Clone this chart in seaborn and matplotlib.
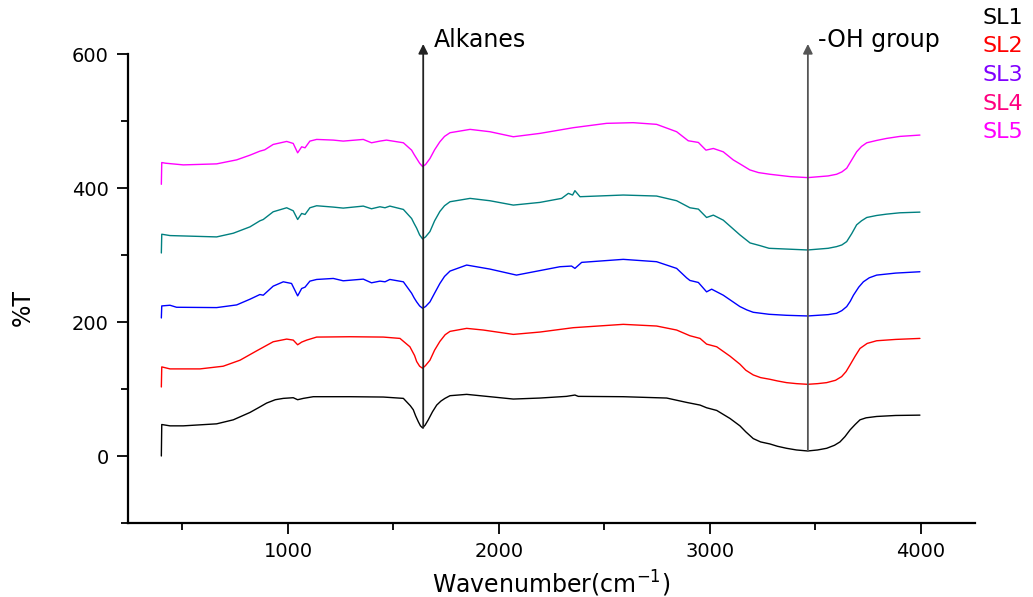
import matplotlib
matplotlib.use("Agg")
import matplotlib.pyplot as plt
import numpy as np
import pandas as pd
import seaborn as sns

# FTIR transmittance spectra (vertically offset), wavenumber in cm^-1
sl1_wn = [400, 402, 441, 504, 662, 741, 820, 860, 899, 940, 978, 1025, 1046, 1073, 1120,
          1294, 1452, 1547, 1580, 1594, 1605, 1618, 1628, 1638, 1650, 1665, 1685, 1705, 1725,
          1744, 1768, 1847, 1926, 2068, 2194, 2320, 2360, 2376, 2589, 2795, 2889, 2953, 2984,
          3032, 3095, 3142, 3170, 3205, 3240, 3284, 3320, 3363, 3410, 3463, 3510, 3553, 3590,
          3616, 3640, 3664, 3688, 3711, 3740, 3790, 3880, 3995]
sl1_t = [0, 47, 45, 45, 48, 54, 65, 72, 79, 84, 86, 87, 84, 86, 88.5,
         88.5, 88, 86, 75, 69, 60, 51, 45, 42, 46, 54, 66, 76, 82,
         86, 90, 92, 89.5, 85, 86.5, 89, 91, 89, 88.5, 86.5, 80, 76, 72,
         68, 56, 45, 36, 26, 21, 18, 14.5, 11.5, 9, 7.5, 9, 11.5, 16,
         21, 29, 39, 47, 54, 57, 59, 60.5, 61]

sl2_wn = [400, 402, 441, 583, 693, 773, 852, 930, 994, 1025, 1046, 1065, 1089, 1136, 1294,
          1452, 1531, 1578, 1600, 1610, 1624, 1638, 1652, 1673, 1695, 1720, 1745, 1768, 1847,
          1926, 2068, 2194, 2352, 2589, 2747, 2842, 2905, 2953, 2984, 3032, 3095, 3142, 3170,
          3205, 3240, 3284, 3320, 3363, 3410, 3463, 3510, 3553, 3595, 3624, 3645, 3664, 3688,
          3711, 3745, 3790, 3880, 3995]
sl2_t = [103, 133, 130, 130, 134, 143, 157, 170.5, 174.5, 173, 166, 170, 173, 177.5, 178,
         177.5, 175.5, 163, 150, 141, 134, 131, 135, 143, 158, 171, 181, 186, 190.5,
         188, 181.5, 185, 191.5, 196.5, 194, 188, 179.5, 175.5, 167, 163, 149, 137, 128,
         121, 117, 114.5, 112, 109.5, 108, 107, 108, 109.5, 113, 118.5, 126, 136, 149,
         160.5, 168, 172, 174, 175.5]

sl3_wn = [400, 402, 441, 472, 662, 757, 820, 867, 883, 930, 978, 1017, 1046, 1065, 1081,
          1104, 1136, 1215, 1262, 1357, 1396, 1436, 1460, 1483, 1547, 1586, 1598, 1610, 1624,
          1638, 1652, 1673, 1695, 1720, 1742, 1768, 1847, 1957, 2083, 2289, 2344, 2360, 2392,
          2589, 2747, 2842, 2889, 2905, 2945, 2984, 3008, 3063, 3142, 3175, 3205, 3280, 3363,
          3463, 3560, 3600, 3625, 3648, 3665, 3680, 3705, 3727, 3755, 3790, 3880, 3995]
sl3_t = [206, 224, 225, 222, 221.5, 225.5, 234, 241, 240, 253.5, 260, 257.5, 239, 250, 252,
         261, 263.5, 265, 261.5, 264, 258.5, 261, 260, 263.5, 260, 243, 236, 230, 224,
         220.5, 223, 230, 243, 257.5, 268, 276, 285, 279, 270, 282.5, 283.5, 280, 289,
         293.5, 290, 280, 266, 262, 259, 245, 249, 240, 223, 218, 214.5, 211.5, 210,
         209, 211, 213, 217, 223, 231, 240, 252, 260, 266, 270, 273, 275]

sl4_wn = [400, 402, 441, 662, 741, 820, 867, 883, 930, 994, 1025, 1046, 1065, 1081, 1104,
          1136, 1215, 1262, 1357, 1396, 1436, 1460, 1483, 1547, 1586, 1598, 1610, 1624, 1638,
          1652, 1673, 1695, 1720, 1742, 1768, 1863, 1957, 2068, 2194, 2297, 2329, 2349, 2360,
          2384, 2589, 2747, 2842, 2905, 2945, 2984, 3016, 3063, 3142, 3190, 3237, 3280, 3463,
          3560, 3600, 3625, 3648, 3672, 3695, 3718, 3743, 3790, 3837, 3900, 3995]
sl4_t = [303, 331, 329, 327, 332.5, 342, 351, 353, 364.5, 370.5, 366, 353, 362, 360.5, 370.5,
         373.5, 371.5, 370, 373, 369, 372, 370.5, 373, 368, 354.5, 347, 340, 330, 324,
         327, 335, 351, 365, 373.5, 379.5, 384.5, 381, 374.5, 378.5, 384.5, 392, 389.5, 396,
         387, 389.5, 388, 381, 370.5, 368.5, 356, 359.5, 352, 330, 318, 314, 310, 307.5,
         310, 312.5, 315, 320, 332, 345, 351, 356, 359, 361, 363, 364]

sl5_wn = [400, 402, 420, 504, 662, 757, 820, 867, 890, 930, 994, 1025, 1046, 1065, 1081,
          1104, 1136, 1215, 1262, 1357, 1396, 1436, 1467, 1547, 1586, 1598, 1610, 1624, 1638,
          1652, 1673, 1695, 1720, 1742, 1768, 1863, 1957, 2068, 2194, 2352, 2510, 2636, 2747,
          2842, 2897, 2945, 2981, 3016, 3063, 3110, 3142, 3189, 3230, 3284, 3380, 3463, 3560,
          3600, 3625, 3648, 3672, 3695, 3718, 3743, 3790, 3837, 3900, 3995]
sl5_t = [405.5, 438, 437, 434.5, 436, 442, 449, 455, 457, 465, 469.5, 466.5, 452.5, 461.5, 460,
         470, 472.5, 471.5, 470, 472.5, 467.5, 470, 471.5, 467.5, 456.5, 450, 444, 437, 432,
         435, 444, 457, 469, 477, 482.5, 487.5, 484, 476.5, 481.5, 490, 496.5, 497.5, 495,
         484, 470.5, 468, 456.5, 459, 454, 442, 436, 427, 423, 420.5, 417, 415.5, 418,
         420.5, 424, 429.5, 442, 454, 462, 467.5, 471, 474, 477, 479]

series = ["SL1", "SL2", "SL3", "SL4", "SL5"]
line_colors = ["#000000", "#ff0000", "#0000ff", "#008080", "#ff00ff"]
label_colors = ["#000000", "#ff0000", "#8000ff", "#ff0080", "#ff00ff"]

x_ticks = [1000, 2000, 3000, 4000]
y_ticks = [0, 200, 400, 600]

# band annotations: (label, wavenumber, arrow base, arrow tip, colour)
bands = [("Alkanes", 1641, 42, 615, "#222222"),
         ("-OH group", 3464, 7.5, 615, "#555555")]

frames = []
for name, wn, t in zip(series, [sl1_wn, sl2_wn, sl3_wn, sl4_wn, sl5_wn],
                       [sl1_t, sl2_t, sl3_t, sl4_t, sl5_t]):
    frames.append(pd.DataFrame({"wavenumber": wn, "T": t, "sample": name}))
df = pd.concat(frames, ignore_index=True)

sns.set_theme(style="ticks")
plt.rcParams["font.family"] = ["DejaVu Sans"]
plt.rcParams["text.color"] = "black"
plt.rcParams["axes.labelcolor"] = "black"

fig = plt.figure(figsize=(10.33, 5.97), dpi=100)
ax = fig.add_axes([128 / 1033, 74 / 597, 847 / 1033, 469 / 597])

sns.lineplot(data=df, x="wavenumber", y="T", hue="sample", hue_order=series,
             palette=line_colors, sort=False, estimator=None, legend=False,
             linewidth=1.0, ax=ax)

ax.set_xlim(242, 4256)
ax.set_ylim(-100, 600)
ax.set_xticks(x_ticks)
ax.set_yticks(y_ticks)
ax.set_xticks([500, 1500, 2500, 3500], minor=True)
ax.set_yticks([-100, 100, 300, 500], minor=True)
ax.tick_params(axis="both", which="major", direction="out", length=8, width=1.3,
               labelsize=14, pad=6, colors="black")
ax.tick_params(axis="both", which="minor", direction="out", length=5, width=1.3,
               colors="black")

for s in ["top", "right"]:
    ax.spines[s].set_visible(False)
for s in ["left", "bottom"]:
    ax.spines[s].set_linewidth(1.6)
    ax.spines[s].set_color("black")

ax.set_xlabel(r"Wavenumber(cm$^{-1}$)", fontsize=17, labelpad=5, color="black")
ax.set_ylabel("%T", fontsize=17, color="black")
ax.yaxis.set_label_coords(-0.11, 0.46)

for label, wn, base, tip, col in bands:
    ax.annotate("", xy=(wn, tip), xytext=(wn, base),
                arrowprops=dict(arrowstyle="-|>", color=col, lw=1.3, mutation_scale=14,
                                shrinkA=0, shrinkB=0),
                annotation_clip=False)
    ax.text(wn + 50, 621, label, fontsize=17, va="center", ha="left",
            color="black", clip_on=False)

# sample labels stacked at the top right
for i, (name, col) in enumerate(zip(series, label_colors)):
    fig.text(982 / 1033, 1 - (18 + 28.5 * i) / 597, name, color=col, fontsize=16,
             ha="left", va="center")

ax.grid(False)
fig.savefig("out.png", dpi=100)
